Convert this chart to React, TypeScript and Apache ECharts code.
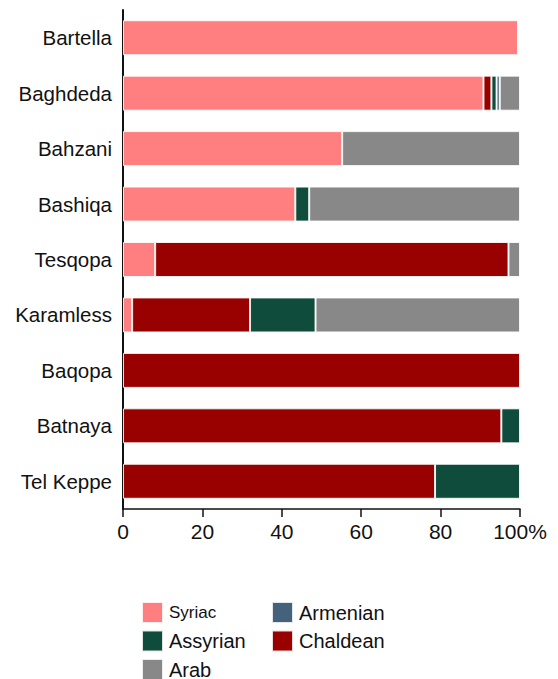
import React, { useEffect, useRef } from "react";
import * as echarts from "echarts";

const categories = ["Bartella", "Baghdeda", "Bahzani", "Bashiqa", "Tesqopa", "Karamless", "Baqopa", "Batnaya", "Tel Keppe"];
const syriac = [99.5, 90.8, 55.2, 43.4, 8.1, 2.3, null, null, null];
const chaldean = [null, 2.0, null, null, 89.0, 29.7, 100, 95.3, 78.6];
const assyrian = [null, 1.3, null, 3.5, null, 16.5, null, 4.7, 21.4];
const armenian = [null, 0.8, null, null, null, null, null, null, null];
const arab = [null, 5.1, 44.8, 53.1, 2.9, 51.5, null, null, null];
const xTicks = [0, 20, 40, 60, 80, 100];

const COLORS: Record<string, string> = {
  Syriac: "#ff7f80",
  Chaldean: "#990000",
  Assyrian: "#104c3c",
  Armenian: "#45627d",
  Arab: "#888888",
};

const FONT = "'Liberation Sans', Arial, sans-serif";

export default function App() {
  const ref = useRef<HTMLDivElement>(null);
  useEffect(() => {
    if (!ref.current) return;
    document.body.style.margin = "0";
    const chart = echarts.init(ref.current, null, { renderer: "svg" });
    const mk = (name: string, data: (number | null)[]) => ({
      name,
      type: "bar",
      stack: "total",
      data,
      barWidth: 35,
      itemStyle: { color: COLORS[name], borderColor: "rgba(255,255,255,0.85)", borderWidth: 1 },
      emphasis: { disabled: true },
    });
    const legendBase = {
      orient: "vertical",
      top: 601,
      height: 90,
      padding: 0,
      itemWidth: 21,
      itemHeight: 21,
      itemGap: 5.5,
      icon: "rect",
      selectedMode: false,
      textStyle: { fontSize: 20, color: "#111", fontFamily: FONT, padding: [0, 0, 0, 1] },
    };
    chart.setOption({
      animation: false,
      textStyle: { fontFamily: FONT },
      grid: { left: 123, right: 38, top: 10, bottom: 170, containLabel: false },
      xAxis: {
        type: "value",
        min: 0,
        max: 100,
        interval: 20,
        splitLine: { show: false },
        axisLine: { show: true, lineStyle: { color: "#111", width: 1.5 } },
        axisTick: { show: true, length: 8, lineStyle: { color: "#111", width: 1.5 } },
        axisLabel: {
          margin: 12,
          fontSize: 21,
          color: "#111",
          fontFamily: FONT,
          formatter: (v: number) => (xTicks.indexOf(v) >= 0 ? (v === 100 ? "100%" : String(v)) : ""),
        },
      },
      yAxis: {
        type: "category",
        data: categories,
        inverse: true,
        axisLine: { show: true, lineStyle: { color: "#111", width: 2 } },
        axisTick: { show: false },
        axisLabel: { margin: 11, fontSize: 20.5, color: "#111", fontFamily: FONT },
      },
      legend: [
        {
          ...legendBase,
          left: 141,
          data: [
            { name: "Syriac", textStyle: { fontSize: 17 } },
            { name: "Assyrian" },
            { name: "Arab" },
          ],
        },
        {
          ...legendBase,
          left: 271,
          data: [{ name: "Armenian" }, { name: "Chaldean" }],
        },
      ],
      series: [
        mk("Syriac", syriac),
        mk("Chaldean", chaldean),
        mk("Assyrian", assyrian),
        mk("Armenian", armenian),
        mk("Arab", arab),
      ],
    });
    return () => chart.dispose();
  }, []);
  return <div ref={ref} style={{ width: 558, height: 679 }} />;
}
